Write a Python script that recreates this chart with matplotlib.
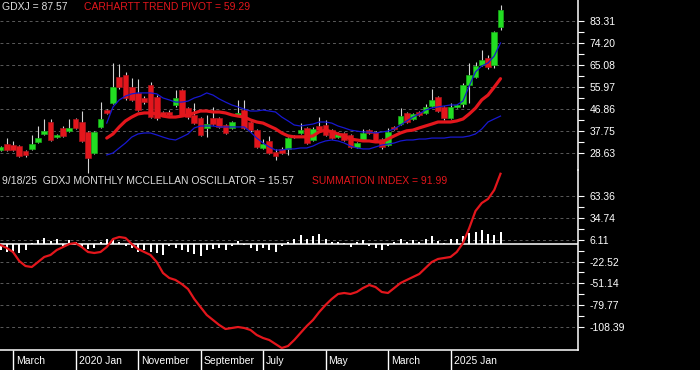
import numpy as np
import matplotlib
matplotlib.use('Agg')
import matplotlib.pyplot as plt
from matplotlib import transforms

plt.rcParams['font.family'] = ['Liberation Sans', 'DejaVu Sans']
plt.rcParams['axes.unicode_minus'] = False

# monthly GDXJ candles, Jan 2019 .. Sep 2025
opens = [29.75, 32.2, 31.8, 31.4, 29.3, 30.2, 33.1, 36.4, 41.35, 35.2,
         38.9, 37.7, 42.6, 41.35, 37.3, 28.5, 39.3, 46.3, 49.2, 60.0,
         60.8, 55.8, 53.4, 51.3, 56.7, 51.7, 45.5, 45.5, 48.4, 54.6,
         47.1, 44.3, 43.0, 38.9, 43.0, 43.0, 40.1, 38.9, 44.3, 46.3,
         41.35, 38.0, 30.6, 33.5, 28.9, 30.2, 30.2, 35.6, 36.8, 38.9,
         33.9, 39.7, 40.1, 38.0, 35.2, 36.8, 36.0, 31.0, 33.9, 38.0,
         37.3, 34.3, 31.8, 39.3, 40.5, 45.1, 42.6, 45.5, 45.1, 47.9,
         51.7, 47.6, 43.0, 47.6, 48.8, 56.7, 60.0, 65.0, 67.9, 65.0, 80.7]
highs = [31.6, 34.7, 33.5, 32.0, 29.8, 36.0, 39.7, 42.6, 42.6, 36.5,
         39.7, 42.6, 43.2, 45.9, 37.8, 37.8, 49.6, 46.8, 65.8, 65.4,
         62.0, 59.5, 59.1, 52.0, 58.0, 52.5, 46.0, 46.3, 54.6, 55.0,
         47.6, 49.2, 43.4, 44.3, 47.6, 43.4, 40.5, 41.8, 50.5, 50.5,
         41.8, 38.5, 34.3, 35.6, 30.2, 31.0, 35.2, 36.0, 40.9, 39.3,
         39.3, 43.4, 42.2, 38.5, 37.3, 37.3, 36.4, 33.1, 38.5, 38.5,
         37.7, 34.7, 38.9, 39.7, 47.1, 45.5, 45.1, 46.0, 48.8, 55.0,
         52.1, 48.0, 49.2, 49.0, 57.5, 65.8, 66.2, 71.2, 69.0, 79.0, 89.8]
lows = [29.3, 29.3, 29.3, 27.0, 27.0, 29.8, 32.7, 35.8, 33.5, 34.8,
        35.2, 37.3, 38.5, 33.0, 20.2, 28.0, 38.9, 44.6, 48.8, 55.0,
        50.5, 50.0, 45.9, 49.0, 43.0, 42.2, 43.8, 43.8, 47.6, 43.8,
        42.6, 40.5, 35.6, 35.2, 40.1, 38.9, 36.4, 38.5, 43.8, 38.5,
        37.3, 30.6, 30.2, 28.0, 25.6, 28.0, 27.7, 34.8, 36.4, 32.2,
        33.5, 37.7, 35.6, 34.3, 34.8, 33.5, 30.6, 30.6, 33.5, 36.4,
        33.1, 30.2, 31.4, 38.0, 40.1, 40.9, 42.2, 43.8, 44.7, 47.6,
        45.5, 42.2, 42.6, 47.2, 47.6, 49.2, 59.5, 64.6, 63.3, 63.6, 79.5]
closes = [31.0, 29.75, 29.75, 27.3, 27.7, 32.2, 34.7, 37.7, 33.9, 36.0,
          35.6, 38.9, 38.9, 33.5, 26.45, 37.3, 42.6, 45.1, 55.8, 55.8,
          51.3, 50.5, 46.3, 49.6, 43.4, 43.0, 44.3, 44.3, 51.3, 44.3,
          43.4, 40.9, 36.0, 40.5, 40.5, 39.3, 36.8, 41.35, 45.1, 38.9,
          38.0, 31.0, 32.2, 28.5, 27.3, 28.5, 34.7, 35.2, 38.0, 32.7,
          38.5, 38.0, 36.0, 34.7, 36.4, 33.9, 31.0, 32.7, 36.8, 36.8,
          33.5, 31.0, 37.3, 38.5, 43.8, 41.35, 44.7, 44.3, 47.6, 50.5,
          45.9, 43.0, 47.6, 48.4, 56.7, 60.8, 64.6, 67.0, 64.1, 78.6, 87.57]

# trend pivot and bands start at month 17
band_start = 17
pivot = [34.7, 36.4, 39.3, 41.8, 43.4, 44.7, 45.1, 45.1, 44.7, 43.8,
         43.4, 43.4, 43.8, 44.3, 45.1, 45.9, 45.9, 45.5, 45.5, 45.1,
         44.3, 43.8, 43.4, 42.2, 41.35, 40.9, 39.7, 38.5, 36.8, 35.6,
         35.2, 35.2, 35.2, 35.6, 37.3, 38.0, 37.3, 36.4, 35.6, 34.3,
         33.9, 33.5, 33.5, 33.1, 33.1, 34.3, 35.6, 36.8, 37.7, 38.0,
         38.9, 39.7, 40.5, 41.35, 41.35, 41.35, 41.8, 42.6, 44.7, 47.1,
         50.5, 52.5, 55.8, 59.29]
upper = [40.9, 47.6, 50.5, 52.1, 53.0, 53.4, 53.4, 53.4, 53.0, 51.3,
         50.5, 49.6, 49.6, 50.0, 51.3, 52.1, 53.4, 52.5, 50.9, 49.6,
         48.4, 47.6, 46.7, 45.9, 45.9, 46.3, 45.9, 45.5, 43.4, 41.8,
         40.1, 39.7, 40.1, 40.5, 41.35, 41.35, 40.9, 39.7, 38.9, 38.0,
         37.6, 37.2, 37.2, 36.8, 37.2, 37.6, 38.45, 40.1, 41.8, 43.4,
         44.7, 46.3, 47.15, 47.6, 48.0, 48.4, 48.4, 50.05, 56.3, 62.1,
         64.55, 65.8, 68.7, 74.1]
lower = [27.7, 28.5, 30.6, 32.65, 35.1, 36.4, 36.8, 36.8, 36.0, 35.1,
         34.3, 33.9, 35.1, 36.4, 38.9, 39.7, 39.7, 39.7, 39.3, 39.3,
         39.3, 39.3, 39.3, 37.2, 34.7, 32.65, 31.0, 29.75, 29.75, 30.2,
         30.2, 30.6, 30.6, 31.4, 32.65, 33.5, 33.9, 33.5, 32.65, 31.4,
         30.6, 30.2, 30.2, 31.0, 31.8, 32.2, 32.65, 33.5, 33.9, 33.9,
         34.3, 34.3, 34.7, 34.7, 34.7, 35.1, 35.1, 35.1, 35.55, 36.4,
         38.45, 41.35, 42.6, 43.8]

oscillator = [-7.8, -10, -11.3, -12, -7, 1.7, 5.2, 8.7, 4.3, 7.4,
              -2.6, 5.2, 3, -4.3, -5.6, -5.2, 3, 7.4, 5.2, 3,
              -2.6, -4.3, -10, -7.8, -10, -12, -14.3, -2.6, -4.3, -7,
              -10, -13, -15.7, -7.8, -5.6, -4.3, -7.8, -2.6, 4.3, -1.3,
              -4.3, -8.7, -4.3, -7, -10, -2.6, 3, 7.4, 11.7, 7.4,
              10.4, 13.9, 7.4, 3, 3, 1.7, -3.5, 3, 6, -2.6,
              -4.3, -7.8, -2.6, 3, 7.4, 3, 5.2, 3, 7.4, 10.4,
              4.3, 1.7, 7.4, 7.4, 10.4, 14.8, 16, 18.3, 13.9, 11.7, 15.57]
summation = [-0.98, -4.9, -10.1, -21.9, -28.4, -29.7, -23.2, -16.6, -14.0, -7.5,
             -3.6, 0.3, 1.6, -3.6, -10.1, -11.4, -10.1, -3.6, 6.85, 9.5,
             8.2, 0.3, -6.2, -10.1, -14.0, -23.2, -37.5, -44.0, -46.6, -51.9,
             -58.4, -71.4, -81.9, -92.3, -98.85, -105.4, -110.6, -109.3, -108.0, -109.3,
             -111.9, -118.4, -122.3, -124.95, -130.2, -135.4, -132.8, -124.95, -115.8, -106.7,
             -98.85, -88.4, -79.3, -71.4, -64.9, -63.6, -64.9, -62.3, -57.1, -53.2,
             -55.8, -62.3, -63.6, -57.1, -50.6, -46.6, -42.7, -38.8, -31.0, -23.2,
             -19.2, -17.9, -16.6, -10.1, 1.6, 21.2, 43.4, 53.8, 59.1, 70.8, 91.99]

price_ticks = [28.63, 37.75, 46.86, 55.97, 65.08, 74.20, 83.31]
osc_ticks = [-108.39, -79.77, -51.14, -22.52, 6.11, 34.74, 63.36]
date_pos = [2, 12, 22, 32, 42, 52, 62, 72]
date_labels = ['March', '2020 Jan', 'November', 'September', 'July', 'May', 'March', '2025 Jan']

W, H = 700, 370
RED = '#e3161c'
GREEN = '#22dd22'


def px_box(x0, y0, x1, y1):
    # pixel rectangle (origin top-left) -> figure fraction
    return [x0 / W, 1 - y1 / H, (x1 - x0) / W, (y1 - y0) / H]


def style_axis(ax, ticks, fmt):
    ax.set_facecolor('none')
    for s in ax.spines.values():
        s.set_visible(False)
    ax.spines['right'].set_visible(True)
    ax.spines['right'].set_color('white')
    ax.spines['right'].set_linewidth(1.1)
    ax.yaxis.tick_right()
    ax.set_yticks(ticks)
    ax.set_yticklabels([fmt(t) for t in ticks])
    ax.set_yticks([(a + b) / 2 for a, b in zip(ticks[:-1], ticks[1:])], minor=True)
    ax.tick_params(axis='y', which='both', colors='white', length=4.3, width=0.8,
                   pad=4.3, labelsize=7.5)
    ax.grid(axis='y', which='major', color='#5a5a5a', lw=0.7, ls=(0, (3, 3)))
    ax.set_axisbelow(True)


fig = plt.figure(figsize=(W / 100, H / 100), dpi=100, facecolor='black')
ax1 = fig.add_axes(px_box(0, 0, 577.5, 170))
ax2 = fig.add_axes(px_box(0, 170, 577.5, 350))

idx = np.arange(len(closes))
o = np.array(opens)
c = np.array(closes)
xlim = (-0.08, 92.32)

# top panel: candles, trend pivot and bands
style_axis(ax1, price_ticks, lambda t: f'{t:.2f}')
ax1.set_xlim(*xlim)
ax1.set_ylim(21.47, 91.88)
ax1.set_xticks([])
wicks = ax1.vlines(idx, lows, highs, color='#d4d4d4', lw=0.8, zorder=2)
wicks.set_clip_on(False)
body = np.where(np.abs(c - o) < 0.3, 0.3, c - o)
up = c >= o
cols = [GREEN if u else RED for u in up]
edges = ['#17a817' if u else '#a8141c' for u in up]
ax1.bar(idx, body, bottom=o, width=0.95, color=cols, edgecolor=edges, lw=0.5, zorder=3)
bidx = idx[band_start:]
ax1.plot(bidx, upper, color='#1818d0', lw=0.9, zorder=4)
ax1.plot(bidx, lower, color='#1818d0', lw=0.9, zorder=4)
ax1.plot(bidx, pivot, color=RED, lw=2.3, zorder=5, solid_capstyle='round')

# bottom panel: oscillator bars and summation index
style_axis(ax2, osc_ticks, lambda t: f'{t:.2f}')
ax2.set_xlim(*xlim)
ax2.set_ylim(-138.0, 96.9)
ax2.axhline(0, color='white', lw=1.1, zorder=1)
ax2.bar(idx, oscillator, width=0.32, color='white', zorder=2)
ax2.plot(idx, summation, color=RED, lw=1.6, zorder=3)
ax2.spines['bottom'].set_visible(True)
ax2.spines['bottom'].set_color('white')
ax2.spines['bottom'].set_linewidth(1.1)
ax2.set_xticks(date_pos)
ax2.tick_params(axis='x', colors='white', length=14.4, width=1.0, labelbottom=False)
lab_tr = transforms.offset_copy(ax2.get_xaxis_transform(), fig=fig, x=3, y=-11, units='dots')
for p, lab in zip(date_pos, date_labels):
    ax2.text(p, 0, lab, transform=lab_tr, color='white', fontsize=7.5,
             ha='left', va='center')

# headers
ty1 = 1 - 6.5 / H
ty2 = 1 - 181.5 / H
fig.text(2 / W, ty1, f'GDXJ = {closes[-1]:.2f}', color='#dedede', fontsize=7.5, va='center')
fig.text(84 / W, ty1, f'CARHARTT TREND PIVOT = {pivot[-1]:.2f}', color=RED, fontsize=7.5, va='center')
fig.text(2 / W, ty2, f'9/18/25  GDXJ MONTHLY MCCLELLAN OSCILLATOR = {oscillator[-1]:.2f}',
         color='#dedede', fontsize=7.5, va='center')
fig.text(312 / W, ty2, f'SUMMATION INDEX = {summation[-1]:.2f}', color=RED, fontsize=7.5, va='center')

fig.savefig('out.png', dpi=100, facecolor='black')
